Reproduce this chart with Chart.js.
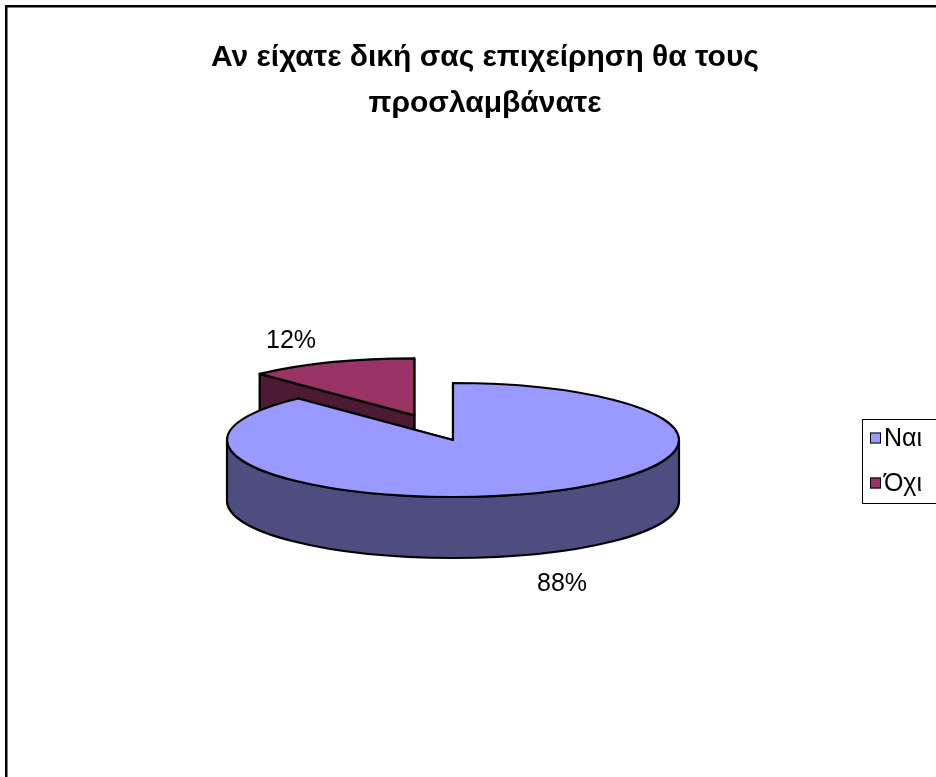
<!DOCTYPE html>
<html>
<head>
<meta charset="utf-8">
<title>Αν είχατε δική σας επιχείρηση θα τους προσλαμβάνατε</title>
<script src="https://cdn.jsdelivr.net/npm/chart.js@4/dist/chart.umd.min.js"></script>
<style>
  html, body { margin: 0; padding: 0; background: #ffffff; }
  canvas { display: block; }
</style>
</head>
<body>
<canvas id="chart" width="936" height="777"></canvas>
<script>
// ---- data ----
const categories = ['Ναι', 'Όχι'];
const shares = [88, 12];
const titleLines = ['Αν είχατε δική σας επιχείρηση θα τους', 'προσλαμβάνατε'];

// ---- styles ----
const topColors = ['#9999FF', '#993366'];
const sideColors = ['#4D4D80', '#4D1A33'];
const explode = [0, 105];               // radial pull-out of each slice, px
const FONT = '"Liberation Sans", Arial, Helvetica, sans-serif';

// tilted-pie geometry (centre, radii of the top ellipse, thickness)
const PIE = { cx: 453, cy: 440, rx: 226, ry: 57, depth: 61 };
// where each percentage label sits, relative to the pie centre
const labelNudge = [{ dx: 109, dy: 143 }, { dx: -162, dy: -100 }];
// legend frame and rows
const LEGEND = { x: 862, y: 419, w: 120, h: 84, swatch: 11, rowY: [438, 483], textX: 884 };

// white page and the outer frame of the chart
const framePlugin = {
  id: 'frame',
  beforeDraw(chart) {
    const ctx = chart.ctx;
    ctx.save();
    ctx.fillStyle = '#ffffff';
    ctx.fillRect(0, 0, chart.width, chart.height);
    ctx.strokeStyle = '#000000';
    ctx.lineWidth = 2.5;
    ctx.strokeRect(6.25, 6.25, chart.width + 100, chart.height + 100);
    ctx.restore();
  }
};

// draws the pie slices as a tilted, extruded disc using the arcs Chart.js laid out
const pie3dPlugin = {
  id: 'pie3d',
  beforeDatasetsDraw(chart) {
    const ctx = chart.ctx;
    const meta = chart.getDatasetMeta(0);
    const ds = chart.data.datasets[0];
    const total = ds.data.reduce((a, b) => a + b, 0);
    const { rx, ry, depth } = PIE;

    const slices = meta.data.map((arc, i) => {
      const p = arc.getProps(['startAngle', 'endAngle'], true);
      const mid = (p.startAngle + p.endAngle) / 2;
      const off = arc.options.offset || 0;
      return {
        i,
        s: p.startAngle,
        e: p.endAngle,
        mid,
        cx: PIE.cx + off * Math.cos(mid),
        cy: PIE.cy + off * Math.sin(mid) * ry / rx
      };
    });

    const pt = (sl, a, dz) => [sl.cx + rx * Math.cos(a), sl.cy + ry * Math.sin(a) + dz];

    const strokeFill = (fill) => {
      ctx.fillStyle = fill;
      ctx.fill();
      ctx.stroke();
    };

    const wall = (sl, a, color) => {
      const [x, y] = pt(sl, a, 0);
      ctx.beginPath();
      ctx.moveTo(sl.cx, sl.cy);
      ctx.lineTo(x, y);
      ctx.lineTo(x, y + depth);
      ctx.lineTo(sl.cx, sl.cy + depth);
      ctx.closePath();
      strokeFill(color);
    };

    ctx.save();
    ctx.strokeStyle = '#000000';
    ctx.lineWidth = 2.2;
    ctx.lineJoin = 'round';

    // back slices first
    const order = slices.slice().sort((a, b) => Math.sin(a.mid) - Math.sin(b.mid));
    order.forEach(sl => {
      const side = sideColors[sl.i];
      wall(sl, sl.s, side);
      wall(sl, sl.e, side);
      // outer rim, only the part that faces the viewer
      const a = Math.max(sl.s, 0), b = Math.min(sl.e, Math.PI);
      if (a < b) {
        ctx.beginPath();
        ctx.ellipse(sl.cx, sl.cy, rx, ry, 0, a, b, false);
        const [bx, by] = pt(sl, b, depth);
        ctx.lineTo(bx, by);
        ctx.ellipse(sl.cx, sl.cy + depth, rx, ry, 0, b, a, true);
        ctx.closePath();
        strokeFill(side);
      }
      // top face
      ctx.beginPath();
      ctx.moveTo(sl.cx, sl.cy);
      ctx.ellipse(sl.cx, sl.cy, rx, ry, 0, sl.s, sl.e, false);
      ctx.closePath();
      strokeFill(topColors[sl.i]);
    });

    // percentage labels
    ctx.fillStyle = '#000000';
    ctx.font = '25px ' + FONT;
    ctx.textAlign = 'center';
    ctx.textBaseline = 'middle';
    slices.forEach(sl => {
      const pct = Math.round(ds.data[sl.i] / total * 100) + '%';
      ctx.fillText(pct, PIE.cx + labelNudge[sl.i].dx, PIE.cy + labelNudge[sl.i].dy + 1);
    });
    ctx.restore();
    return false;
  }
};

// boxed legend on the right
const legendPlugin = {
  id: 'boxLegend',
  afterDraw(chart) {
    const ctx = chart.ctx;
    ctx.save();
    ctx.strokeStyle = '#000000';
    ctx.lineWidth = 1;
    ctx.strokeRect(LEGEND.x + 0.5, LEGEND.y + 0.5, LEGEND.w, LEGEND.h);
    ctx.font = '25px ' + FONT;
    ctx.textBaseline = 'middle';
    ctx.textAlign = 'left';
    chart.data.labels.forEach((lab, i) => {
      const y = LEGEND.rowY[i];
      const s = LEGEND.swatch;
      ctx.fillStyle = topColors[i];
      ctx.fillRect(LEGEND.x + 8, y - s / 2, s, s);
      ctx.strokeRect(LEGEND.x + 8.5, y - s / 2 + 0.5, s - 1, s - 1);
      ctx.fillStyle = '#000000';
      ctx.fillText(lab, LEGEND.textX, y + 1);
    });
    ctx.restore();
  }
};

new Chart(document.getElementById('chart'), {
  type: 'pie',
  data: {
    labels: categories,
    datasets: [{
      data: shares,
      backgroundColor: topColors,
      offset: explode,
      borderWidth: 0
    }]
  },
  options: {
    responsive: false,
    animation: false,
    devicePixelRatio: 1,
    layout: { padding: { left: 34, right: 0, top: 0, bottom: 0 } },
    plugins: {
      legend: { display: false },
      tooltip: { enabled: false },
      title: {
        display: true,
        text: titleLines,
        color: '#000000',
        font: { family: FONT, size: 30, weight: 'bold', lineHeight: '46px' },
        padding: { top: 35, bottom: 10 }
      }
    }
  },
  plugins: [framePlugin, pie3dPlugin, legendPlugin]
});
</script>
</body>
</html>
